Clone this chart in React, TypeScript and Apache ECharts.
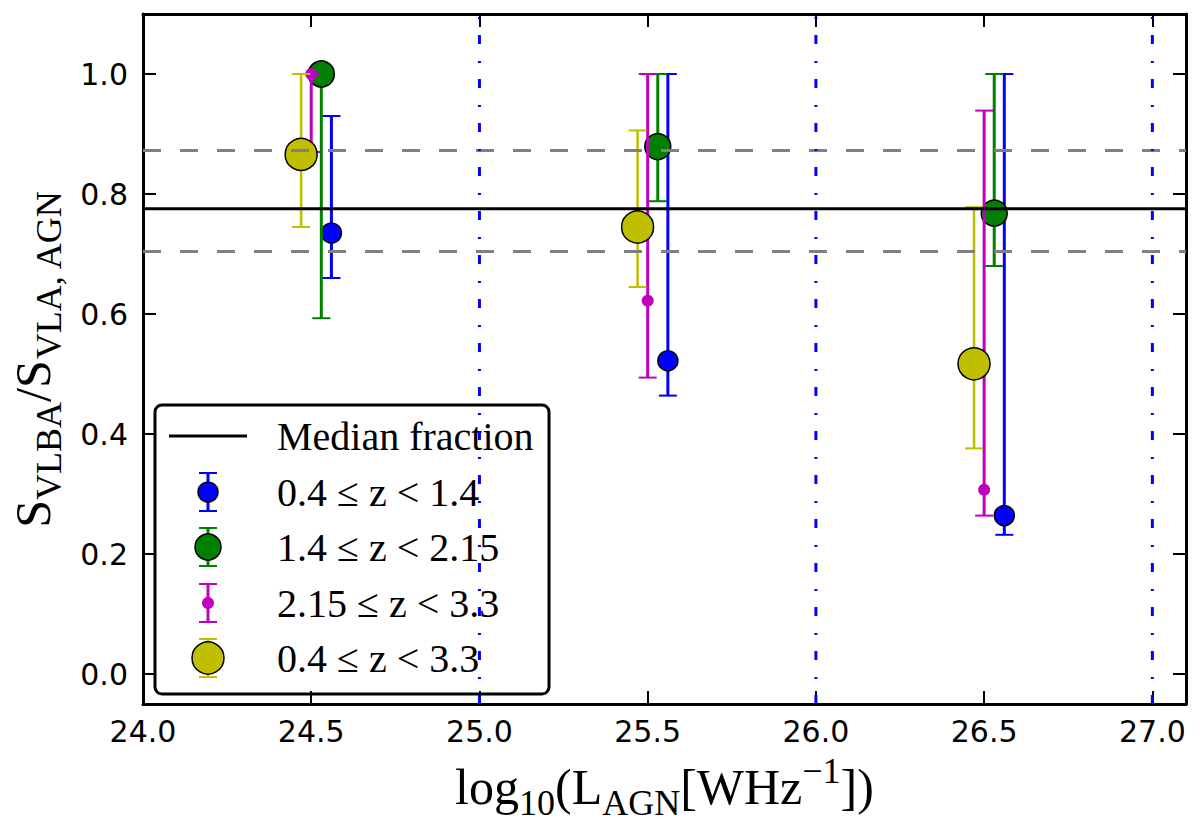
import React, { useEffect, useRef } from 'react';
import * as echarts from 'echarts';

// axis ranges and ticks
const xRange = [24, 27.1];
const yRange = [-0.05, 1.1];
const xTicks = [24.0, 24.5, 25.0, 25.5, 26.0, 26.5, 27.0];
const yTicks = [0.0, 0.2, 0.4, 0.6, 0.8, 1.0];

// reference lines
const medianFraction = 0.7755;
const fractionBand = [0.704, 0.8725];
const binEdges = [25, 26, 27];

// redshift bins (legend labels)
const labels = ['0.4 ≤ z < 1.4', '1.4 ≤ z < 2.15', '2.15 ≤ z < 3.3', '0.4 ≤ z < 3.3'];

// 0.4 <= z < 1.4
const blueX = [24.56, 25.56, 26.56];
const blueY = [0.735, 0.522, 0.264];
const blueLo = [0.66, 0.464, 0.232];
const blueHi = [0.93, 1.0, 1.0];

// 1.4 <= z < 2.15
const greenX = [24.53, 25.53, 26.53];
const greenY = [1.0, 0.879, 0.768];
const greenLo = [0.593, 0.788, 0.68];
const greenHi = [1.0, 1.0, 1.0];

// 2.15 <= z < 3.3
const magentaX = [24.5, 25.5, 26.5];
const magentaY = [1.0, 0.622, 0.307];
const magentaLo = [0.87, 0.494, 0.264];
const magentaHi = [1.0, 1.0, 0.939];

// 0.4 <= z < 3.3
const yellowX = [24.47, 25.47, 26.47];
const yellowY = [0.866, 0.745, 0.517];
const yellowLo = [0.745, 0.645, 0.376];
const yellowHi = [1.0, 0.906, 0.778];

const groups = [
  { name: labels[0], x: blueX, y: blueY, lo: blueLo, hi: blueHi, color: '#0000ff', size: 20, lw: 3, edge: true },
  { name: labels[1], x: greenX, y: greenY, lo: greenLo, hi: greenHi, color: '#008000', size: 26, lw: 3, edge: true },
  { name: labels[2], x: magentaX, y: magentaY, lo: magentaLo, hi: magentaHi, color: '#bf00bf', size: 12, lw: 3, edge: false },
  { name: labels[3], x: yellowX, y: yellowY, lo: yellowLo, hi: yellowHi, color: '#bfbf00', size: 32, lw: 2.5, edge: true },
];

const SERIF = 'Liberation Serif';
const SANS = 'DejaVu Sans';
const CAP = 9;

const errorBarSeries = (g: any, z: number) => ({
  type: 'custom',
  name: g.name + ' err',
  z,
  silent: true,
  encode: { x: 0, y: [1, 2] },
  data: g.x.map((x: number, i: number) => [x, g.lo[i], g.hi[i]]),
  renderItem: (params: any, api: any) => {
    const lo = api.coord([api.value(0), api.value(1)]);
    const hi = api.coord([api.value(0), api.value(2)]);
    const stroke = { stroke: g.color, lineWidth: g.lw };
    const capStroke = { stroke: g.color, lineWidth: 2 };
    return {
      type: 'group',
      children: [
        { type: 'line', shape: { x1: lo[0], y1: lo[1], x2: hi[0], y2: hi[1] }, style: stroke },
        { type: 'line', shape: { x1: lo[0] - CAP, y1: lo[1], x2: lo[0] + CAP, y2: lo[1] }, style: capStroke },
        { type: 'line', shape: { x1: hi[0] - CAP, y1: hi[1], x2: hi[0] + CAP, y2: hi[1] }, style: capStroke },
      ],
    };
  },
});

const markerSeries = (g: any, z: number) => ({
  type: 'scatter',
  name: g.name,
  z,
  silent: true,
  symbol: 'circle',
  symbolSize: g.size,
  itemStyle: {
    color: g.color,
    opacity: 1,
    borderColor: g.edge ? '#000' : g.color,
    borderWidth: g.edge ? 1.5 : 0,
  },
  data: g.x.map((x: number, i: number) => [x, g.y[i]]),
});

const refLine = (data: number[][], color: string, width: number, dash: any, z: number) => ({
  type: 'line',
  z,
  silent: true,
  showSymbol: false,
  symbol: 'none',
  lineStyle: { color, width, type: dash },
  data,
});

// legend drawn as graphic
const legendGraphic = () => {
  const lx = 208;
  const rows = [492, 547, 603, 658];
  const children: any[] = [
    {
      type: 'rect',
      shape: { x: 155, y: 405, width: 394, height: 289, r: 7 },
      style: { fill: '#fff', stroke: '#000', lineWidth: 3 },
    },
    { type: 'line', shape: { x1: 169, y1: 436, x2: 247, y2: 436 }, style: { stroke: '#000', lineWidth: 3 } },
    {
      type: 'text',
      x: 277,
      y: 436,
      style: { text: 'Median fraction', font: `40px "${SERIF}"`, fill: '#000', verticalAlign: 'middle', align: 'left' },
    },
  ];
  groups.forEach((g, i) => {
    const cy = rows[i];
    children.push(
      { type: 'line', shape: { x1: lx, y1: cy - 19, x2: lx, y2: cy + 19 }, style: { stroke: g.color, lineWidth: g.lw } },
      { type: 'line', shape: { x1: lx - CAP, y1: cy - 19, x2: lx + CAP, y2: cy - 19 }, style: { stroke: g.color, lineWidth: 2 } },
      { type: 'line', shape: { x1: lx - CAP, y1: cy + 19, x2: lx + CAP, y2: cy + 19 }, style: { stroke: g.color, lineWidth: 2 } },
      {
        type: 'circle',
        shape: { cx: lx, cy, r: g.size / 2 },
        style: { fill: g.color, stroke: g.edge ? '#000' : null, lineWidth: 1.5 },
      },
      {
        type: 'text',
        x: 277,
        y: cy,
        style: { text: g.name, font: `40px "${SERIF}"`, fill: '#000', verticalAlign: 'middle', align: 'left' },
      },
    );
  });
  return [{ type: 'group', z: 100, children }];
};

const mathRich = {
  m: { fontFamily: SERIF, fontSize: 50, lineHeight: 68, verticalAlign: 'middle', color: '#000' },
  s: { fontFamily: SERIF, fontSize: 36, lineHeight: 36, verticalAlign: 'bottom', color: '#000' },
  p: { fontFamily: SERIF, fontSize: 36, lineHeight: 26, verticalAlign: 'top', color: '#000' },
};

const App: React.FC = () => {
  const chartRef = useRef<HTMLDivElement>(null);

  useEffect(() => {
    if (!chartRef.current) return undefined;
    const chart = echarts.init(chartRef.current, null, { renderer: 'svg' });

    const axisLine = { show: true, onZero: false, lineStyle: { color: '#000', width: 3 } };
    const tickStyle = { inside: true, length: 13, lineStyle: { color: '#000', width: 2 } };
    const fmt = (v: number) => v.toFixed(1);

    const series: any[] = [];
    groups.forEach((g, i) => {
      series.push(errorBarSeries(g, 2 + i * 2));
      series.push(markerSeries(g, 3 + i * 2));
    });
    series.push(refLine([[xRange[0], medianFraction], [xRange[1], medianFraction]], '#000', 3, 'solid', 20));
    fractionBand.forEach((v) => {
      series.push(refLine([[xRange[0], v], [xRange[1], v]], '#808080', 3, [18, 19], 20));
    });
    binEdges.forEach((e) => {
      series.push(refLine([[e, yRange[0]], [e, yRange[1]]], '#0000ff', 3, [9, 16, 2, 17], 20));
    });

    const options: any = {
      animation: false,
      grid: { left: 137, right: 14, top: 14, bottom: 114, containLabel: false },
      xAxis: [
        {
          type: 'value',
          position: 'bottom',
          min: xRange[0],
          max: xRange[1],
          axisLine,
          splitLine: { show: false },
          axisTick: { ...tickStyle, customValues: xTicks },
          axisLabel: { customValues: xTicks, formatter: fmt, fontFamily: SANS, fontSize: 30, color: '#000', margin: 12 },
          name: '{m|log}{s|10}{m|(L}{s|AGN}{m|[WHz}{p|−1}{m|])}',
          nameLocation: 'middle',
          nameGap: 49,
          nameTextStyle: { fontFamily: SERIF, color: '#000', rich: mathRich },
        },
        {
          type: 'value',
          position: 'top',
          min: xRange[0],
          max: xRange[1],
          axisLine,
          splitLine: { show: false },
          axisTick: { ...tickStyle, customValues: xTicks },
          axisLabel: { show: false },
        },
      ],
      yAxis: [
        {
          type: 'value',
          position: 'left',
          min: yRange[0],
          max: yRange[1],
          axisLine,
          splitLine: { show: false },
          axisTick: { ...tickStyle, customValues: yTicks },
          axisLabel: { customValues: yTicks, formatter: fmt, fontFamily: SANS, fontSize: 30, color: '#000', margin: 15 },
          name: '{m|S}{s|VLBA}{m|/S}{s|VLA, AGN}',
          nameLocation: 'middle',
          nameRotate: 90,
          nameGap: 76,
          nameTextStyle: { fontFamily: SERIF, color: '#000', rich: mathRich },
        },
        {
          type: 'value',
          position: 'right',
          min: yRange[0],
          max: yRange[1],
          axisLine,
          splitLine: { show: false },
          axisTick: { ...tickStyle, customValues: yTicks },
          axisLabel: { show: false },
        },
      ],
      graphic: legendGraphic(),
      series,
    };

    chart.setOption(options);
    return () => {
      chart.dispose();
    };
  }, []);

  return (
    <div
      ref={chartRef}
      style={{ position: 'absolute', left: 0, top: 0, width: '1200px', height: '826px', background: '#fff' }}
    />
  );
};

export default App;
